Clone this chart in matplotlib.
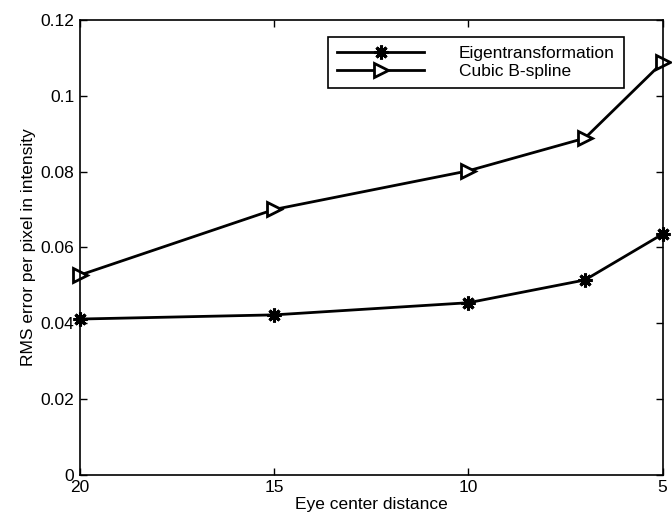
import matplotlib
matplotlib.use("Agg")
from matplotlib import pyplot as plt

plt.rcParams["font.family"] = ["Liberation Sans", "DejaVu Sans"]

dist = [20, 15, 10, 7, 5]
eigen = [0.0411, 0.0422, 0.0454, 0.0514, 0.0635]
spline = [0.0527, 0.0700, 0.0802, 0.0888, 0.1088]
yticks = [0, 0.02, 0.04, 0.06, 0.08, 0.1, 0.12]
ytick_labels = ["0", "0.02", "0.04", "0.06", "0.08", "0.1", "0.12"]
xticks = [20, 15, 10, 5]

fig = plt.figure(figsize=(6.72, 5.23), dpi=100)
ax = fig.add_axes([0.119, 0.092, 0.867, 0.870])

ax.plot(dist, eigen, color="black", lw=2, marker=(8, 2, 0), ms=10,
        mec="black", mew=2.2, clip_on=False, label="Eigentransformation")
ax.plot(dist, spline, color="black", lw=2, marker=">", ms=10,
        mfc="white", mec="black", mew=2, clip_on=False,
        label="Cubic B-spline")

ax.set_xlim(20, 5)
ax.set_ylim(0, 0.12)
ax.set_xticks(xticks)
ax.set_xticklabels([str(v) for v in xticks])
ax.set_yticks(yticks)
ax.set_yticklabels(ytick_labels)
ax.tick_params(direction="in", top=True, right=True, length=5,
               labelsize=12.5, width=1)
ax.tick_params(axis="x", pad=4)
ax.tick_params(axis="y", pad=4)
for s in ax.spines.values():
    s.set_linewidth(1.2)

ax.set_xlabel("Eye center distance", fontsize=12.5, labelpad=1)
ax.set_ylabel("RMS error per pixel in intensity", fontsize=12.5, labelpad=3)

leg = ax.legend(loc="upper right", bbox_to_anchor=(0.934, 0.963),
                fancybox=False, edgecolor="black", framealpha=1,
                fontsize=12.5, handlelength=5.0, handletextpad=2.0,
                borderpad=0.55, labelspacing=0.12, borderaxespad=0)
leg.get_frame().set_linewidth(1.2)

plt.savefig("out.png", dpi=100)
